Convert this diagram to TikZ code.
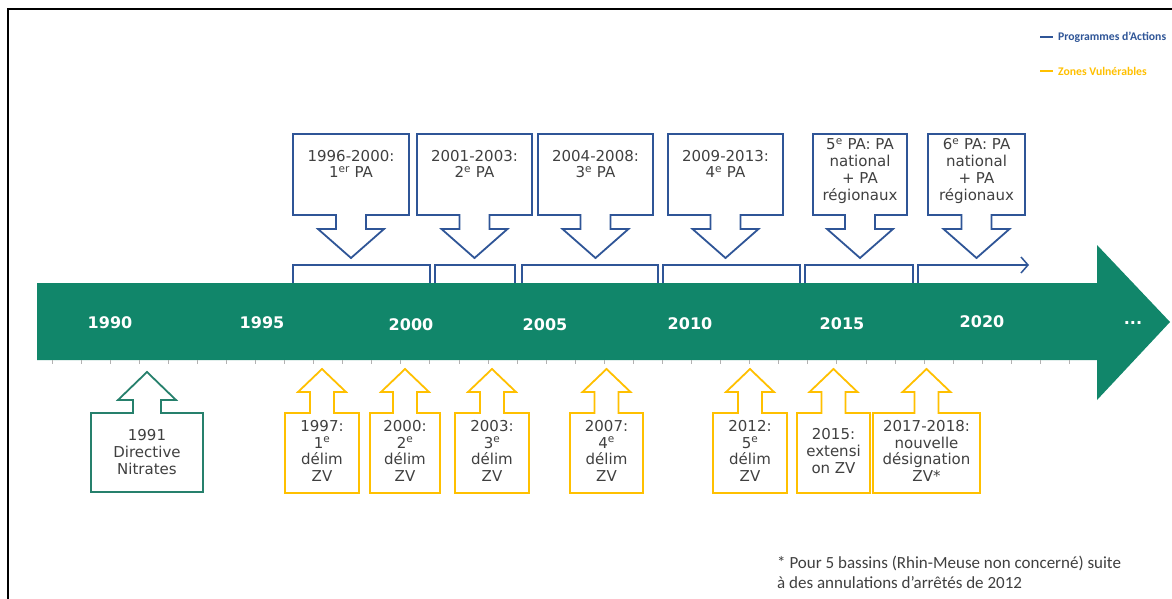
\documentclass[tikz,border=0pt]{standalone}
\usepackage{fontspec}
\setmainfont{DejaVu Sans}
\newfontfamily\carlito{Carlito}
\usetikzlibrary{arrows.meta}
\definecolor{band}{RGB}{17,134,106}
\definecolor{pablue}{RGB}{47,85,151}
\definecolor{zvyel}{RGB}{255,192,0}
\definecolor{dirgreen}{RGB}{38,128,108}
\definecolor{txt}{RGB}{64,64,64}
\tikzset{
  pa/.style={draw=pablue, line width=1.8pt, line join=miter},
  zv/.style={draw=zvyel, line width=1.8pt, line join=miter},
  dir/.style={draw=dirgreen, line width=1.8pt, line join=miter},
  boxtext/.style={inner sep=0pt, align=center, text=txt, font=\fontsize{15}{16.7}\selectfont},
  year/.style={inner sep=0pt, text=white, font=\bfseries\fontsize{16}{18}\selectfont},
  bracket/.style={draw=pablue, line width=1.5pt},
  legend/.style={anchor=west, inner sep=0pt, font=\carlito\bfseries\fontsize{11.7}{14}\selectfont},
}
\newcommand{\PAcallout}[5]{%
  \pgfmathsetmacro{\pacx}{(#2+#3)/2}
  \draw[pa] (#2,134) -- (#3,134) -- (#3,215) -- (\pacx+15,215) -- (\pacx+15,229) -- (\pacx+33,229) -- (\pacx,258) -- (\pacx-33,229) -- (\pacx-15,229) -- (\pacx-15,215) -- (#2,215) -- cycle;
  \node[boxtext] (#1) at (\pacx,#4) {#5};
}
\newcommand{\ZVcallout}[4]{%
  \pgfmathsetmacro{\zvcx}{(#2+#3)/2}
  \draw[zv] (#2,493) -- (#3,493) -- (#3,413) -- (\zvcx+12,413) -- (\zvcx+12,392) -- (\zvcx+24,392) -- (\zvcx,369) -- (\zvcx-24,392) -- (\zvcx-12,392) -- (\zvcx-12,413) -- (#2,413) -- cycle;
  \node[boxtext] (#1) at (\zvcx,451) {#4};
}
\begin{document}
\begin{tikzpicture}[x=1pt,y=-1pt]
\useasboundingbox (0,0) rectangle (1172,599);
\fill[white] (0,0) rectangle (1172,599);
% frame lines
\draw[black, line width=2pt] (8,599) -- (8,9.5) -- (1172,9.5);
% legend
\draw[pablue, line width=2pt] (1040,37) -- (1053,37);
\node[legend, text=pablue] (legpa) at (1058,37) {Programmes d’Actions};
\draw[zvyel, line width=2pt] (1040,71) -- (1053,71);
\node[legend, text=zvyel] (legzv) at (1058,71) {Zones Vulnérables};
% main arrow
\fill[band] (37,283) -- (1097,283) -- (1097,245) -- (1170,322) -- (1097,400) -- (1097,360) -- (37,360) -- cycle;
\foreach \k in {-2,...,33} {
  \draw[gray!60, line width=0.6pt] ({110+29.07*\k},360) -- ({110+29.07*\k},364);
}
\node[year] (y1990) at (110,323) {1990};
\node[year] (y1995) at (262,323) {1995};
\node[year] (y2000) at (411,325) {2000};
\node[year] (y2005) at (545,325) {2005};
\node[year] (y2010) at (690,324) {2010};
\node[year] (y2015) at (842,324) {2015};
\node[year] (y2020) at (982,322) {2020};
\node[year] (ydots) at (1133,323) {...};
% brackets
\draw[bracket] (293,283) -- (293,265) -- (430,265) -- (430,283);
\draw[bracket] (435,283) -- (435,265) -- (515,265) -- (515,283);
\draw[bracket] (522,283) -- (522,265) -- (658,265) -- (658,283);
\draw[bracket] (663,283) -- (663,265) -- (800,265) -- (800,283);
\draw[bracket] (805,283) -- (805,265) -- (913,265) -- (913,283);
\draw[bracket, -{Straight Barb[length=7pt,width=16pt]}] (918,283) -- (918,265) -- (1029,265);
% programme d'actions callouts
\PAcallout{pa1}{293}{409}{164}{1996-2000:\\1\textsuperscript{er} PA}
\PAcallout{pa2}{417}{532}{164}{2001-2003:\\2\textsuperscript{e} PA}
\PAcallout{pa3}{538}{653}{164}{2004-2008:\\3\textsuperscript{e} PA}
\PAcallout{pa4}{668}{783}{164}{2009-2013:\\4\textsuperscript{e} PA}
\PAcallout{pa5}{813}{907}{171}{5\textsuperscript{e} PA: PA\\national\\+ PA\\régionaux}
\PAcallout{pa6}{928}{1025}{171}{6\textsuperscript{e} PA: PA\\national\\+ PA\\régionaux}
% directive
\draw[dir] (91,492) -- (203,492) -- (203,413) -- (161,413) -- (161,400) -- (176,400) -- (147,372) -- (118,400) -- (133,400) -- (133,413) -- (91,413) -- cycle;
\node[boxtext] (dir) at (147,452) {1991\\Directive\\Nitrates};
% zones vulnerables callouts
\ZVcallout{zv1}{285}{359}{1997:\\1\textsuperscript{e}\\délim\\ZV}
\ZVcallout{zv2}{370}{440}{2000:\\2\textsuperscript{e}\\délim\\ZV}
\ZVcallout{zv3}{455}{529}{2003:\\3\textsuperscript{e}\\délim\\ZV}
\ZVcallout{zv4}{570}{643}{2007:\\4\textsuperscript{e}\\délim\\ZV}
\ZVcallout{zv5}{713}{787}{2012:\\5\textsuperscript{e}\\délim\\ZV}
\ZVcallout{zv6}{797}{870}{2015:\\extensi\\on ZV}
\ZVcallout{zv7}{873}{980}{2017-2018:\\nouvelle\\désignation\\ZV*}
% footnote
\node[anchor=west, inner sep=0pt, align=left, text=txt, font=\carlito\fontsize{17}{20}\selectfont] (note) at (777,572) {* Pour 5 bassins (Rhin-Meuse non concerné) suite\\à des annulations d’arrêtés de 2012};
\end{tikzpicture}
\end{document}
